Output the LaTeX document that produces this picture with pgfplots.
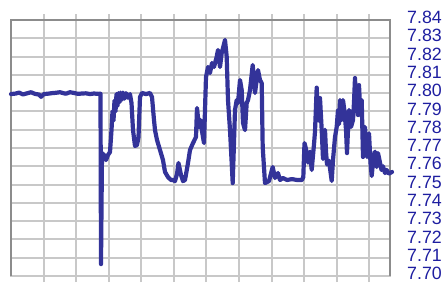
\documentclass[border=0pt]{standalone}
\usepackage{pgfplots}
\pgfplotsset{compat=1.18}
\usepackage{fontspec}
\setmainfont{Liberation Sans}
\definecolor{lineblue}{RGB}{51,51,153}
\definecolor{labelblue}{RGB}{30,30,160}
\definecolor{gridgray}{RGB}{200,200,200}
\definecolor{bordergray}{RGB}{140,140,140}
\begin{document}
\begin{tikzpicture}
\begin{axis}[
  scale only axis,
  width=379pt, height=256pt,
  xmin=0, xmax=379,
  ymin=7.70, ymax=7.84,
  clip=false,
  xtick={32.57,65.14,97.71,130.28,162.85,195.42,227.99,260.56,293.13,325.7,358.27},
  xticklabels={},
  ytick={7.70,7.71,7.72,7.73,7.74,7.75,7.76,7.77,7.78,7.79,7.80,7.81,7.82,7.83,7.84},
  yticklabel pos=right,
  yticklabel style={/pgf/number format/fixed,/pgf/number format/fixed zerofill,/pgf/number format/precision=2,
     font=\fontsize{17.8}{17.8}\selectfont, text=labelblue, inner sep=0pt, xshift=11pt, yshift=2.5pt},
  /pgf/number format/assume math mode=true,
  ytick style={draw=none},
  tick align=outside,
  major tick length=6pt,
  xtick style={draw=gridgray, line width=2pt},
  grid=major,
  major grid style={draw=gridgray, line width=2pt},
  axis line style={draw=gridgray, line width=2pt},
]
\draw[bordergray, line width=2pt] (rel axis cs:0,0) -- (rel axis cs:0,1) -- (rel axis cs:1,1) -- (rel axis cs:1,0);
\addplot[lineblue, line width=4.2pt, line join=round, line cap=round, mark=none] coordinates {
(0,7.7995) (5,7.7998) (8,7.8003) (12,7.7993) (16,7.7999) (20,7.8005) (24,7.7996) (28,7.7992) (30,7.7980) (33,7.7995) (37,7.7997) (41,7.8000) (45,7.8002) (49,7.8005) (53,7.7999) (55,7.7997) (59,7.8005) (63,7.8001) (67,7.7996) (71,7.7998) (75,7.7999) (79,7.7995) (83,7.7998) (87,7.7996) (89.5,7.7997)
(90,7.7065) (91,7.7672) (93,7.7662) (95,7.7634) (97,7.7662) (99,7.7678) (100.5,7.7798) (101.5,7.7900) (102.5,7.7850) (103.5,7.7960) (104.5,7.7900) (105.5,7.7995) (106.5,7.7930) (107.5,7.8000) (108.5,7.7950) (109.5,7.8003) (111,7.7965) (112,7.8003) (113.5,7.7970) (115,7.8000) (117,7.7975) (119,7.7995) (120.5,7.7946) (122,7.7798) (124,7.7711) (126,7.7716) (127.5,7.7760) (129,7.7979) (131,7.8001) (135,7.7995) (139,7.8001) (141,7.7979) (143,7.7853) (144,7.7798) (146,7.7744) (149,7.7689) (152,7.7634) (154,7.7569) (157,7.7541) (160,7.7525) (162,7.7525) (164,7.7519) (166,7.7558) (167.5,7.7618) (170,7.7552) (172,7.7519) (174,7.7525) (177,7.7618) (179,7.7689) (182,7.7727) (185,7.7760) (186,7.7919) (188,7.7815) (189.5,7.7853) (191,7.7793) (193,7.7727) (194,7.7908) (195,7.8088) (197,7.8143) (199,7.8110) (201,7.8165) (203,7.8143) (205.7,7.8199) (207,7.8236) (209,7.8143) (210.7,7.8219) (212,7.8247) (214,7.8291) (215.7,7.8199) (217,7.7962) (219,7.7798) (220.7,7.7618) (221.7,7.7508) (222.5,7.7645) (224,7.7908) (225.7,7.7962) (227,7.7946) (229,7.8072) (230.7,7.8017) (232,7.7837) (234,7.7798) (235.7,7.7946) (237,7.7962) (239,7.8017) (241.7,7.8154) (244,7.8001) (247,7.8126) (249,7.8072) (250.7,7.8055) (251.7,7.7705) (254,7.7508) (258,7.7519) (261.7,7.7596) (264,7.7536) (267,7.7563) (269,7.7525) (272,7.7536) (276,7.7525) (281,7.7530) (286,7.7525) (291,7.7525)
(292.3,7.7541) (293.5,7.7727) (295.7,7.7678) (297,7.7620) (299,7.7680) (300.7,7.7580) (302,7.7660) (303,7.7720) (304,7.7790) (305.7,7.8030) (306.5,7.7900) (307,7.7962) (308,7.7850) (309,7.7973) (310.7,7.7800) (312,7.7640) (313,7.7720) (314,7.7800) (315,7.7680) (316,7.7610) (318,7.7630) (320.7,7.7520) (322,7.7634) (324,7.7760) (325.7,7.7815) (327,7.7908) (328,7.7830) (329,7.7962) (330.7,7.7853) (332,7.7962) (333.5,7.7900) (335,7.7800) (336,7.7672) (337,7.7800) (338,7.7908) (340,7.7815) (342,7.7853) (343,7.7950) (344,7.8083) (345,7.7950) (346,7.7962) (347,7.7880) (348,7.8044) (349,7.7930) (350.7,7.7962) (352,7.7651) (353,7.7750) (354,7.7815) (356,7.7651) (357,7.7720) (358,7.7780) (359.5,7.7620) (360.7,7.7547) (362.5,7.7651) (364,7.7680) (365.7,7.7596) (367,7.7672) (369,7.7620) (370.5,7.7580) (372,7.7600) (374,7.7563) (375.7,7.7580) (377.5,7.7560) (379,7.7563) (381,7.7569)
};
\end{axis}
\pgfresetboundingbox
\path[use as bounding box] (-11pt,-6pt) rectangle (434pt,276pt);
\end{tikzpicture}
\end{document}
